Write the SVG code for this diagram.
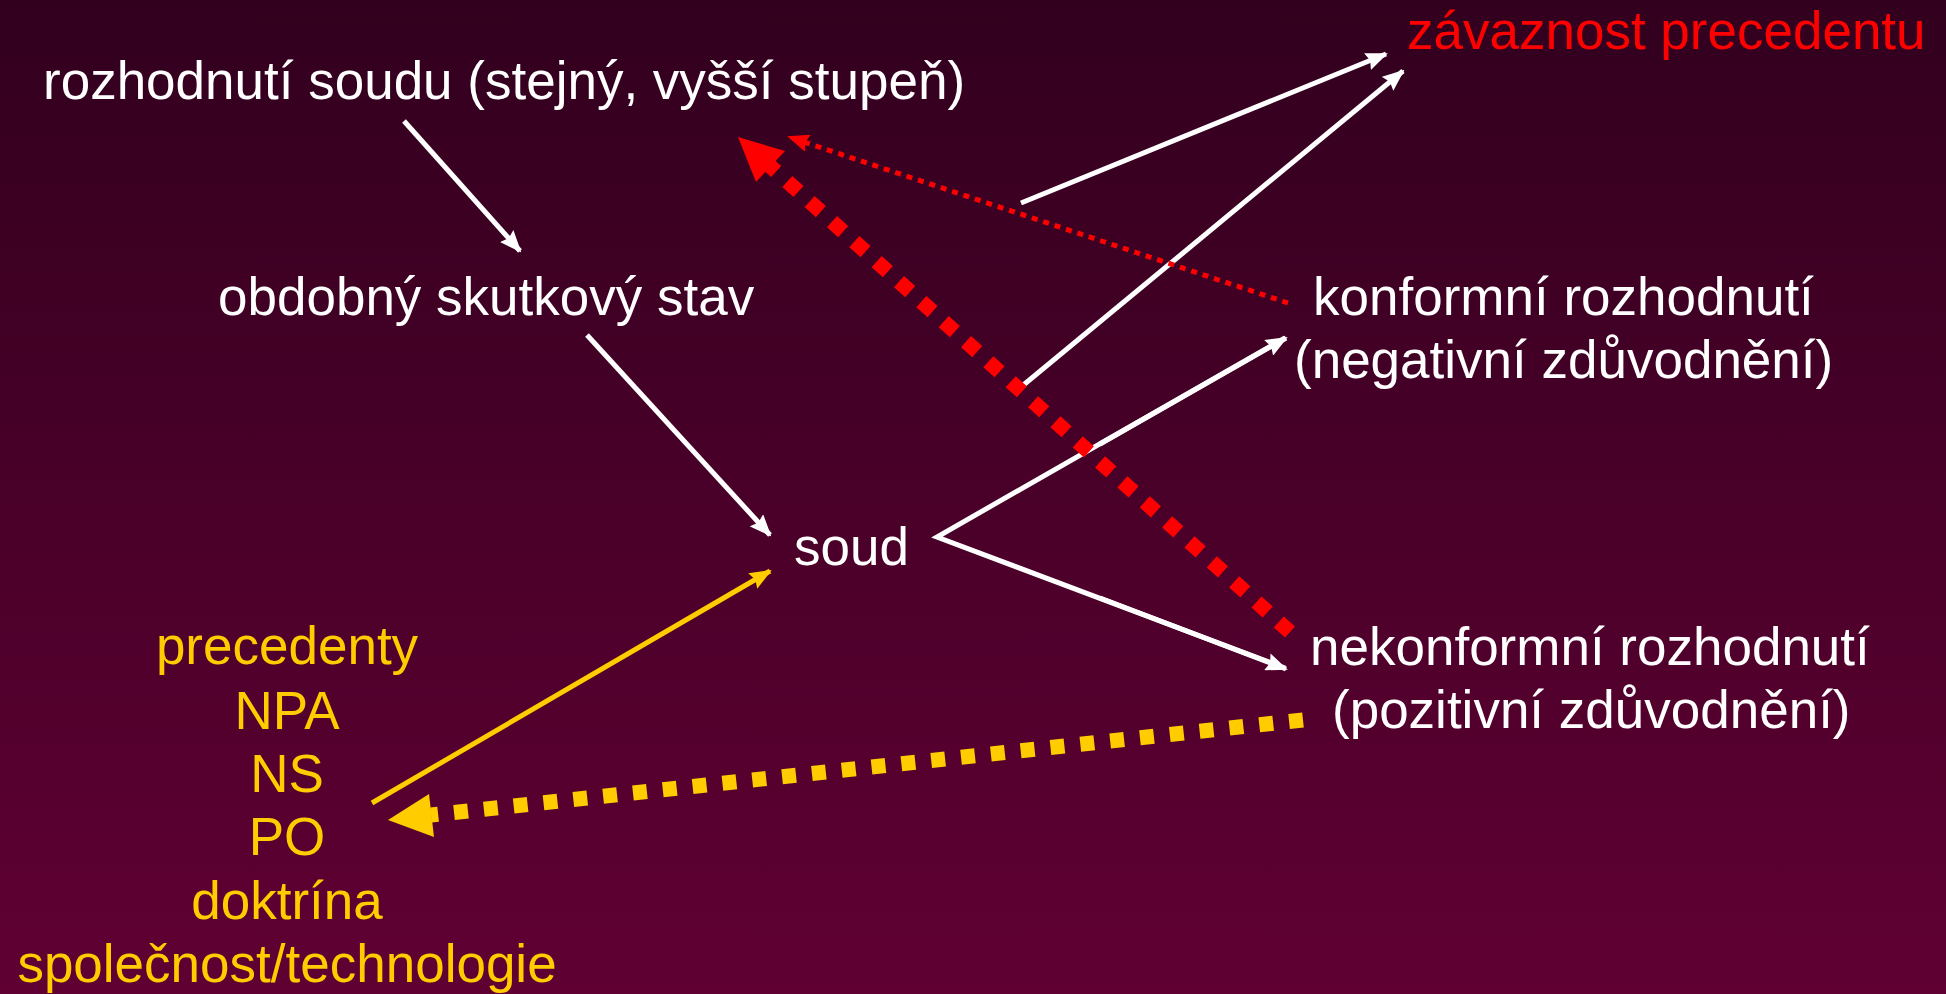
<svg xmlns="http://www.w3.org/2000/svg" width="1946" height="994" viewBox="0 0 1946 994">
<style>
text{font-family:"Liberation Sans",Arial,sans-serif;font-size:53px}
.w{fill:#FFFFFF}
.y{fill:#FFCC00;text-anchor:middle}
.r{fill:#FF0000}
.lw{stroke:#FFFFFF;stroke-width:5;fill:none}
.ly{stroke:#FFCC00;stroke-width:5;fill:none}
</style>
<defs>
<linearGradient id="bg" x1="0" y1="0" x2="0" y2="1">
<stop offset="0" stop-color="#32001E"/>
<stop offset="1" stop-color="#600033"/>
</linearGradient>
<marker id="aw" markerUnits="userSpaceOnUse" markerWidth="22" markerHeight="18" refX="20" refY="9" orient="auto" viewBox="0 0 22 18">
<path d="M0,0 L22,9 L0,18 L3,9 z" fill="#FFFFFF"/>
</marker>
<marker id="ay" markerUnits="userSpaceOnUse" markerWidth="22" markerHeight="18" refX="20" refY="9" orient="auto" viewBox="0 0 22 18">
<path d="M0,0 L22,9 L0,18 L3,9 z" fill="#FFCC00"/>
</marker>
<marker id="ar" markerUnits="userSpaceOnUse" markerWidth="22" markerHeight="18" refX="20" refY="9" orient="auto" viewBox="0 0 22 18">
<path d="M0,0 L22,9 L0,18 L3,9 z" fill="#FF0000"/>
</marker>
</defs>
<rect width="1946" height="994" fill="url(#bg)"/>

<g id="connectors">
<line class="lw" x1="404" y1="121" x2="520" y2="251" marker-end="url(#aw)"/>
<line class="lw" x1="587" y1="335" x2="770" y2="535" marker-end="url(#aw)"/>
<polyline class="lw" points="1285,338 937,537 1285,668"/>
<line class="lw" x1="1100" y1="444" x2="1286" y2="338" marker-end="url(#aw)"/>
<line class="lw" x1="1100" y1="598" x2="1286" y2="669" marker-end="url(#aw)"/>
<line class="lw" x1="1021" y1="203" x2="1386" y2="54" marker-end="url(#aw)"/>
<line class="lw" x1="1021" y1="387" x2="1403" y2="71" marker-end="url(#aw)"/>
<line class="ly" x1="372" y1="803" x2="770" y2="571" marker-end="url(#ay)"/>
<line x1="1288" y1="303" x2="789" y2="137" stroke="#FF0000" stroke-width="5" stroke-dasharray="6 6" marker-end="url(#ar)"/>
<line x1="1290" y1="632" x2="770" y2="166" stroke="#FF0000" stroke-width="15" stroke-dasharray="15 15"/>
<polygon points="738,137 785,151 756,182" fill="#FF0000"/>
<line x1="1303" y1="720" x2="431" y2="815" stroke="#FFCC00" stroke-width="15" stroke-dasharray="14 16"/>
<polygon points="388,820 429,794 434,837" fill="#FFCC00"/>
</g>

<g id="n-rozhodnuti"><text class="w" x="43" y="99">rozhodnutí soudu (stejný, vyšší stupeň)</text></g>
<g id="n-zavaznost"><text class="r" x="1407" y="49">závaznost precedentu</text></g>
<g id="n-obdobny"><text class="w" x="218" y="315">obdobný skutkový stav</text></g>
<g id="n-konformni"><text class="w" x="1313" y="315">konformní rozhodnutí</text><text class="w" x="1294" y="378">(negativní zdůvodnění)</text></g>
<g id="n-soud"><text class="w" x="794" y="565">soud</text></g>
<g id="n-nekonformni"><text class="w" x="1310" y="665">nekonformní rozhodnutí</text><text class="w" x="1332" y="728">(pozitivní zdůvodnění)</text></g>
<g id="n-zdroje">
<text class="y" x="287" y="664">precedenty</text>
<text class="y" x="287" y="729">NPA</text>
<text class="y" x="287" y="792">NS</text>
<text class="y" x="287" y="855">PO</text>
<text class="y" x="287" y="919">doktrína</text>
<text class="y" x="287" y="982">společnost/technologie</text>
</g>
</svg>
